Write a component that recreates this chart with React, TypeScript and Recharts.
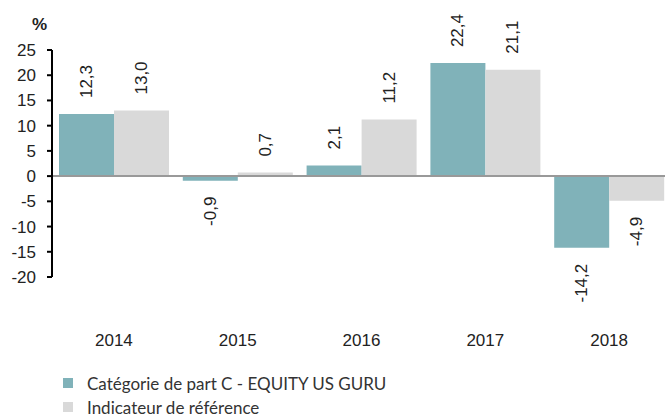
import {
  BarChart,
  Bar,
  XAxis,
  YAxis,
  ReferenceLine,
  Legend,
  LabelList,
} from 'recharts';

const YEARS = ['2014', '2015', '2016', '2017', '2018'];
const FUND = [12.3, -0.9, 2.1, 22.4, -14.2];
const BENCHMARK = [13.0, 0.7, 11.2, 21.1, -4.9];
const Y_TICKS = [-20, -15, -10, -5, 0, 5, 10, 15, 20, 25];

const FUND_NAME = 'Catégorie de part C - EQUITY US GURU';
const BENCH_NAME = 'Indicateur de référence';

const TEAL = '#80b2b9';
const GREY = '#d9d9d9';
const TEXT = '#222';
const FONT = '"Liberation Sans", Arial, sans-serif';

const data = YEARS.map((year, i) => ({
  year,
  fund: FUND[i],
  bench: BENCHMARK[i],
}));

const fmt = (v: number) => v.toFixed(1).replace('.', ',');

function BarValueLabel(props: any) {
  const vb = props.viewBox || {};
  const x = props.x ?? vb.x;
  const y = props.y ?? vb.y;
  const width = props.width ?? vb.width;
  const height = props.height ?? vb.height;
  const value = Number(props.value);
  const cx = x + width / 2;
  const top = Math.min(y, y + height);
  const bottom = Math.max(y, y + height);
  const positive = value >= 0;
  const ly = positive ? top - 16 : bottom + 16;
  return (
    <text
      x={cx}
      y={ly}
      transform={`rotate(-90 ${cx} ${ly})`}
      textAnchor={positive ? 'start' : 'end'}
      dominantBaseline="central"
      fontSize={17}
      fontFamily={FONT}
      fill={TEXT}
    >
      {fmt(value)}
    </text>
  );
}

function LegendBox({ payload }: any) {
  return (
    <div style={{ fontFamily: 'Lato, sans-serif', fontSize: 17, color: '#333' }}>
      {(payload || []).map((item: any) => (
        <div key={item.value} style={{ display: 'flex', alignItems: 'center', height: 24 }}>
          <span
            style={{
              display: 'inline-block',
              width: 10,
              height: 10,
              backgroundColor: item.color,
              marginRight: 14,
            }}
          />
          <span>{item.value}</span>
        </div>
      ))}
    </div>
  );
}

export default function App() {
  return (
    <div
      style={{
        position: 'absolute',
        left: 0,
        top: 0,
        width: 665,
        height: 417,
        overflow: 'hidden',
        background: '#fff',
      }}
    >
      <div
        style={{
          position: 'absolute',
          left: 32,
          top: 15,
          fontFamily: FONT,
          fontWeight: 700,
          fontSize: 17,
          color: TEXT,
        }}
      >
        %
      </div>
      <BarChart
        width={680}
        height={417}
        data={data}
        margin={{ top: 50, right: 9, bottom: 110, left: 0 }}
        barCategoryGap={7}
        barGap={0}
      >
        <XAxis
          dataKey="year"
          axisLine={false}
          tickLine={false}
          tickMargin={51}
          tick={{ fontSize: 17, fontFamily: FONT, fill: TEXT }}
          interval={0}
        />
        <YAxis
          width={52}
          domain={[-20, 25]}
          ticks={Y_TICKS}
          interval={0}
          axisLine={{ stroke: '#000', strokeWidth: 2 }}
          tickLine={{ stroke: '#000', strokeWidth: 2 }}
          tickSize={5}
          tickMargin={11}
          tick={{ fontSize: 17, fontFamily: FONT, fill: TEXT }}
        />
        <Bar dataKey="fund" name={FUND_NAME} fill={TEAL} isAnimationActive={false}>
          <LabelList dataKey="fund" content={BarValueLabel} />
        </Bar>
        <Bar dataKey="bench" name={BENCH_NAME} fill={GREY} isAnimationActive={false}>
          <LabelList dataKey="bench" content={BarValueLabel} />
        </Bar>
        <ReferenceLine y={0} stroke="#999" strokeWidth={2} />
        <Legend
          layout="vertical"
          align="center"
          verticalAlign="middle"
          wrapperStyle={{ left: 63, top: 371, width: 450 }}
          content={LegendBox}
        />
      </BarChart>
    </div>
  );
}
